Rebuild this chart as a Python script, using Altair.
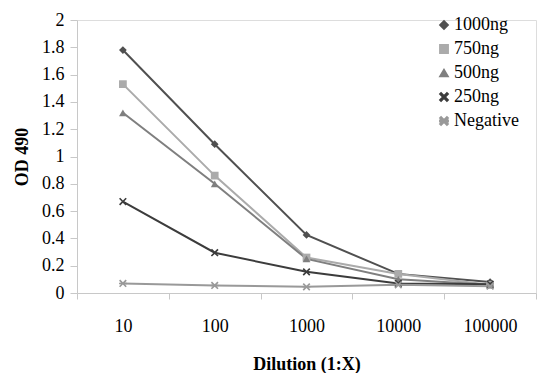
import altair as alt
import pandas as pd

dilutions = ["10", "100", "1000", "10000", "100000"]
series = ["1000ng", "750ng", "500ng", "250ng", "Negative"]
v1000 = [1.78, 1.09, 0.425, 0.14, 0.08]
v750 = [1.53, 0.86, 0.26, 0.14, 0.06]
v500 = [1.32, 0.80, 0.25, 0.10, 0.06]
v250 = [0.67, 0.295, 0.155, 0.07, 0.065]
vneg = [0.07, 0.055, 0.045, 0.06, 0.05]

colors = ["#505050", "#ababab", "#7f7f7f", "#3c3c3c", "#999999"]
xpath = "M-1,-0.7L-0.7,-1L0,-0.3L0.7,-1L1,-0.7L0.3,0L1,0.7L0.7,1L0,0.3L-0.7,1L-1,0.7L-0.3,0Z"
starpath = xpath + "M-1,-0.18L1,-0.18L1,0.18L-1,0.18Z"
shapes = ["diamond", "square", "triangle-up", xpath, starpath]

rows = []
for name, vals in zip(series, [v1000, v750, v500, v250, vneg]):
    for d, v in zip(dilutions, vals):
        rows.append({"Dilution": d, "OD": v, "Series": name})
df = pd.DataFrame(rows)

FONT = "Liberation Serif, Times New Roman, serif"

x = alt.X("Dilution:O", sort=dilutions, title="Dilution (1:X)",
          axis=alt.Axis(labelAngle=0, tickBand="extent", grid=False,
                        domainColor="#c8c8c8", tickColor="#c8c8c8", tickSize=6,
                        labelPadding=18, titlePadding=20,
                        labelFont=FONT, labelFontSize=18, labelColor="#000"))
y = alt.Y("OD:Q", title="OD 490", scale=alt.Scale(domain=[0, 2], nice=False),
          axis=alt.Axis(values=[i / 10 for i in range(0, 21, 2)], format=".1~f",
                        grid=False, domainColor="#c8c8c8", tickColor="#c8c8c8",
                        tickSize=7, labelPadding=6, titlePadding=10,
                        labelFont=FONT, labelFontSize=18, labelColor="#000"))

leg = alt.Legend(title=None, orient="none", legendX=358, legendY=-4,
                 symbolSize=70, rowPadding=6, labelOffset=1,
                 labelFont=FONT, labelFontSize=18, labelColor="#000")
color = alt.Color("Series:N", sort=series, scale=alt.Scale(domain=series, range=colors), legend=leg)
shape = alt.Shape("Series:N", sort=series, scale=alt.Scale(domain=series, range=shapes), legend=leg)

lines = alt.Chart(df).mark_line(strokeWidth=2).encode(x=x, y=y, color=color, detail="Series:N")
points = alt.Chart(df).mark_point(filled=True, size=60, opacity=1).encode(x=x, y=y, color=color, shape=shape)

chart = alt.layer(lines, points).properties(
    width=459, height=273,
    autosize=alt.AutoSizeParams(type="none"),
    padding={"left": 69, "top": 12, "right": 10, "bottom": 80},
).configure_view(stroke=None).configure(background="white", font=FONT).configure_axis(
    labelFont=FONT, labelFontSize=18, labelColor="#000",
    titleFont=FONT, titleFontSize=18, titleFontWeight="bold", titleColor="#000",
).configure_legend(labelFont=FONT, labelFontSize=18, labelColor="#000")

chart.save("out.html", embed_options={"renderer": "svg", "actions": False})
